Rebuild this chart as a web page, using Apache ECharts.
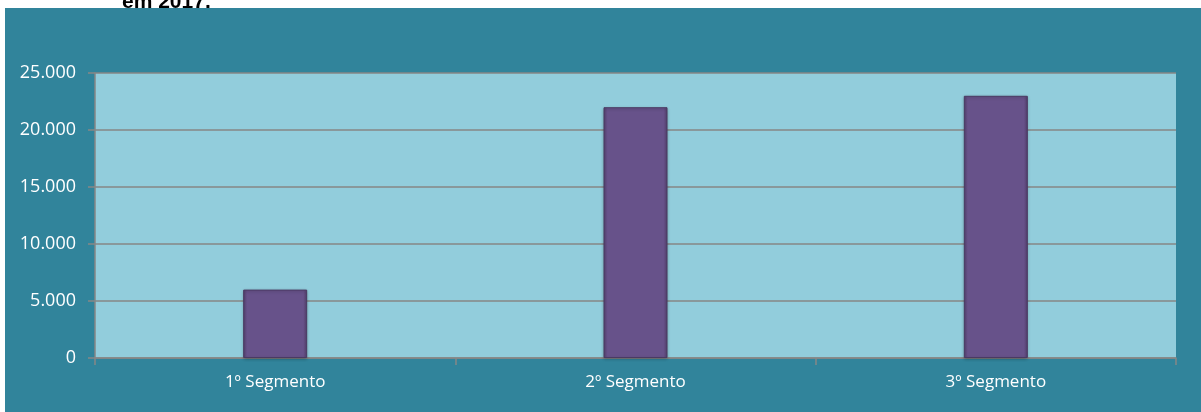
<!DOCTYPE html>
<html>
<head>
<meta charset="utf-8">
<style>
  html, body { margin: 0; padding: 0; background: #ffffff; }
  #chart { width: 1201px; height: 412px; }
</style>
<script src="https://cdn.jsdelivr.net/npm/echarts@6/dist/echarts.min.js"></script>
</head>
<body>
<div id="chart"></div>
<script>
const categories = ['1º Segmento', '2º Segmento', '3º Segmento'];
const values = [6000, 22000, 23000];
const titleText = 'em 2017.';

const chart = echarts.init(document.getElementById('chart'), null, { renderer: 'canvas' });

const fmt = v => v === 0 ? '0' : String(v).replace(/\B(?=(\d{3})+(?!\d))/g, '.');

chart.setOption({
  backgroundColor: '#ffffff',
  animation: false,
  graphic: [
    {
      type: 'text', z: -20, left: 122, top: -8,
      style: { text: titleText, font: 'bold 21px "Liberation Sans", Arial', fill: '#000000' }
    },
    {
      type: 'rect', z: -10, shape: { x: 5, y: 8, width: 1196, height: 404 },
      style: { fill: '#31849b' }
    }
  ],
  grid: {
    left: 95, right: 25, top: 73, bottom: 54,
    show: true, backgroundColor: '#92cddc', borderWidth: 0
  },
  xAxis: {
    type: 'category',
    data: categories,
    axisLine: { show: true, lineStyle: { color: '#868686', width: 1.5 } },
    axisTick: { show: true, length: 7, alignWithLabel: false, lineStyle: { color: '#868686', width: 1.5 } },
    axisLabel: { color: '#ffffff', fontFamily: '"Open Sans", sans-serif', fontSize: 17, margin: 16 },
    splitLine: { show: false }
  },
  yAxis: {
    type: 'value',
    min: 0, max: 25000, interval: 5000,
    axisLine: { show: true, lineStyle: { color: '#868686', width: 1.5 } },
    axisTick: { show: true, length: 7, lineStyle: { color: '#868686', width: 1.5 } },
    axisLabel: { color: '#ffffff', fontFamily: '"Open Sans", sans-serif', fontSize: 18, margin: 19, formatter: fmt },
    splitLine: { show: true, lineStyle: { color: '#868686', width: 1.5 } }
  },
  series: [{
    type: 'bar',
    data: values,
    barWidth: 64,
    itemStyle: {
      color: new echarts.graphic.LinearGradient(0, 0, 1, 0, [
        { offset: 0, color: '#55416f' },
        { offset: 0.06, color: '#67528a' },
        { offset: 0.94, color: '#67528a' },
        { offset: 1, color: '#55416f' }
      ]),
      borderColor: '#4a3a63',
      borderWidth: 1,
      shadowColor: 'rgba(0,0,0,0.25)',
      shadowBlur: 3,
      shadowOffsetY: 1
    }
  }]
});
</script>
</body>
</html>
